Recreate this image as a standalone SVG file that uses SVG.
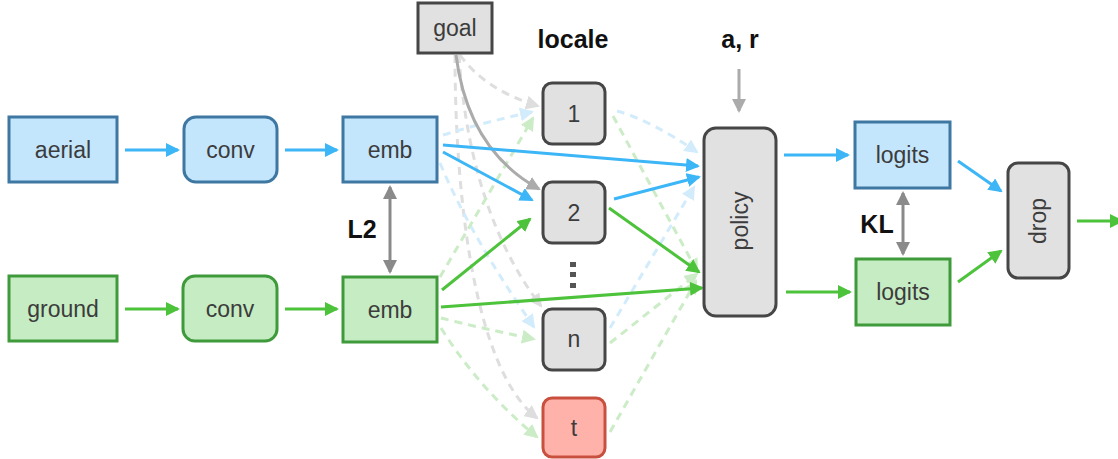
<svg xmlns="http://www.w3.org/2000/svg" width="1118" height="459" viewBox="0 0 1118 459">
<style>
.t{font-family:"Liberation Sans",Arial,Helvetica,sans-serif;font-size:23px;fill:#3c3c3c;text-anchor:middle}
.lbl{font-family:"Liberation Sans",Arial,Helvetica,sans-serif;font-size:25px;font-weight:bold;fill:#111;text-anchor:middle}
.blue{fill:#c3e6fc;stroke:#3e77a1;stroke-width:3}
.green{fill:#c6ecc3;stroke:#3f9a3b;stroke-width:3}
.gray{fill:#e1e1e1;stroke:#464646;stroke-width:3}
.red{fill:#ffb2aa;stroke:#c9503f;stroke-width:3}
.c{fill:none;stroke-width:3}
.sb{stroke:#3cb6f6;marker-end:url(#mB)}
.sg{stroke:#4dc23b;marker-end:url(#mG)}
.sgr{stroke:#ababab;marker-end:url(#mGr)}
.sd{stroke:#8a8a8a;marker-end:url(#mD);marker-start:url(#mD)}
.d{stroke-dasharray:8 6}
.lb{stroke:#d3ecfc;marker-end:url(#mLB)}
.lg{stroke:#cbecc6;marker-end:url(#mLG)}
.lgr{stroke:#dedede;marker-end:url(#mLGr)}
</style>
<defs>
<marker id="mB" markerUnits="userSpaceOnUse" markerWidth="14" markerHeight="14" refX="12" refY="7" orient="auto"><path d="M0,0 L14,7 L0,14 z" fill="#3cb6f6"/></marker>
<marker id="mG" markerUnits="userSpaceOnUse" markerWidth="14" markerHeight="14" refX="12" refY="7" orient="auto"><path d="M0,0 L14,7 L0,14 z" fill="#4dc23b"/></marker>
<marker id="mGr" markerUnits="userSpaceOnUse" markerWidth="14" markerHeight="14" refX="12" refY="7" orient="auto"><path d="M0,0 L14,7 L0,14 z" fill="#ababab"/></marker>
<marker id="mD" markerUnits="userSpaceOnUse" markerWidth="14" markerHeight="14" refX="12" refY="7" orient="auto-start-reverse"><path d="M0,0 L14,7 L0,14 z" fill="#8a8a8a"/></marker>
<marker id="mLB" markerUnits="userSpaceOnUse" markerWidth="14" markerHeight="14" refX="12" refY="7" orient="auto"><path d="M0,0 L14,7 L0,14 z" fill="#d3ecfc"/></marker>
<marker id="mLG" markerUnits="userSpaceOnUse" markerWidth="14" markerHeight="14" refX="12" refY="7" orient="auto"><path d="M0,0 L14,7 L0,14 z" fill="#cbecc6"/></marker>
<marker id="mLGr" markerUnits="userSpaceOnUse" markerWidth="14" markerHeight="14" refX="12" refY="7" orient="auto"><path d="M0,0 L14,7 L0,14 z" fill="#dedede"/></marker>
</defs>

<g id="connectors">
  <path class="c d lgr" d="M460,55 Q485,90 538,106"/>
  <path class="c d lgr" d="M459,55 C465,150 490,240 541,306"/>
  <path class="c d lgr" d="M455,55 C455,200 475,370 537,418"/>
  <path class="c d lb" d="M443,135 Q485,122 532,112"/>
  <path class="c d lb" d="M440,163 Q470,235 534,327"/>
  <path class="c d lg" d="M440,277 L533,118"/>
  <path class="c d lg" d="M441,318 Q480,328 534,339"/>
  <path class="c d lg" d="M441,328 Q480,390 537,437"/>
  <path class="c d lb" d="M617,111 Q650,120 697,152"/>
  <path class="c d lg" d="M613,116 L697,271"/>
  <path class="c d lb" d="M610,328 L694,187"/>
  <path class="c d lg" d="M610,343 L697,274"/>
  <path class="c d lg" d="M610,432 L696,281"/>
  <path class="c sgr" d="M456,55 Q468,150 539,189"/>
  <path class="c sb" d="M125,150 H178"/>
  <path class="c sb" d="M285,150 H337"/>
  <path class="c sg" d="M125,309 H178"/>
  <path class="c sg" d="M285,309 H337"/>
  <path class="c sb" d="M443,145 L698,166"/>
  <path class="c sb" d="M443,152 L532,200"/>
  <path class="c sb" d="M614,199 L699,177"/>
  <path class="c sg" d="M609,208 L699,272"/>
  <path class="c sg" d="M442,290 L530,219"/>
  <path class="c sg" d="M441,307 L702,288"/>
  <path class="c sb" d="M784,155 H848"/>
  <path class="c sg" d="M786,292 H850"/>
  <path class="c sb" d="M958,161 L1001,191"/>
  <path class="c sg" d="M958,282 L1001,251"/>
  <path class="c sg" d="M1077,221 H1122"/>
  <path class="c sgr" d="M739,69 V111"/>
  <path class="c sd" d="M390,187 V272"/>
  <path class="c sd" d="M903,193 V254"/>
</g>

<g id="labels">
  <text class="lbl" x="573" y="48">locale</text>
  <text class="lbl" x="740" y="48">a, r</text>
  <text class="lbl" x="362" y="238">L2</text>
  <text class="lbl" x="877" y="233">KL</text>
  <g id="dots" fill="#555">
    <rect x="570" y="262" width="6" height="5"/>
    <rect x="570" y="272" width="6" height="5"/>
    <rect x="570" y="283" width="6" height="5"/>
  </g>
</g>

<g id="aerial"><rect class="blue" x="9" y="117" width="108" height="65"/><text class="t" x="63" y="158">aerial</text></g>
<g id="conv-aerial"><rect class="blue" x="184" y="117" width="93" height="65" rx="12"/><text class="t" x="230.5" y="158">conv</text></g>
<g id="emb-aerial"><rect class="blue" x="343" y="117" width="94" height="65"/><text class="t" x="390" y="158">emb</text></g>
<g id="ground"><rect class="green" x="9" y="276" width="108" height="65"/><text class="t" x="63" y="317">ground</text></g>
<g id="conv-ground"><rect class="green" x="183" y="276" width="94" height="65" rx="12"/><text class="t" x="230" y="317">conv</text></g>
<g id="emb-ground"><rect class="green" x="343" y="277" width="94" height="65"/><text class="t" x="390" y="318">emb</text></g>
<g id="goal"><rect class="gray" x="418" y="3" width="74" height="50"/><text class="t" x="455" y="36">goal</text></g>
<g id="loc-1"><rect class="gray" x="543" y="83" width="62" height="61" rx="9"/><text class="t" x="574" y="122">1</text></g>
<g id="loc-2"><rect class="gray" x="543" y="182" width="62" height="61" rx="9"/><text class="t" x="574" y="221">2</text></g>
<g id="loc-n"><rect class="gray" x="543" y="309" width="62" height="61" rx="9"/><text class="t" x="574" y="347">n</text></g>
<g id="loc-t"><rect class="red" x="543" y="398" width="62" height="59" rx="9"/><text class="t" x="574" y="436">t</text></g>
<g id="policy"><rect class="gray" x="704" y="128" width="72" height="188" rx="12"/><text class="t" x="740" y="229" transform="rotate(-90 740 221)">policy</text></g>
<g id="logits-aerial"><rect class="blue" x="855" y="122" width="95" height="66"/><text class="t" x="902.5" y="163">logits</text></g>
<g id="logits-ground"><rect class="green" x="856" y="259" width="94" height="66"/><text class="t" x="903" y="300">logits</text></g>
<g id="drop"><rect class="gray" x="1008" y="163" width="61" height="115" rx="10"/><text class="t" x="1038" y="229" transform="rotate(-90 1038 221)">drop</text></g>
</svg>
